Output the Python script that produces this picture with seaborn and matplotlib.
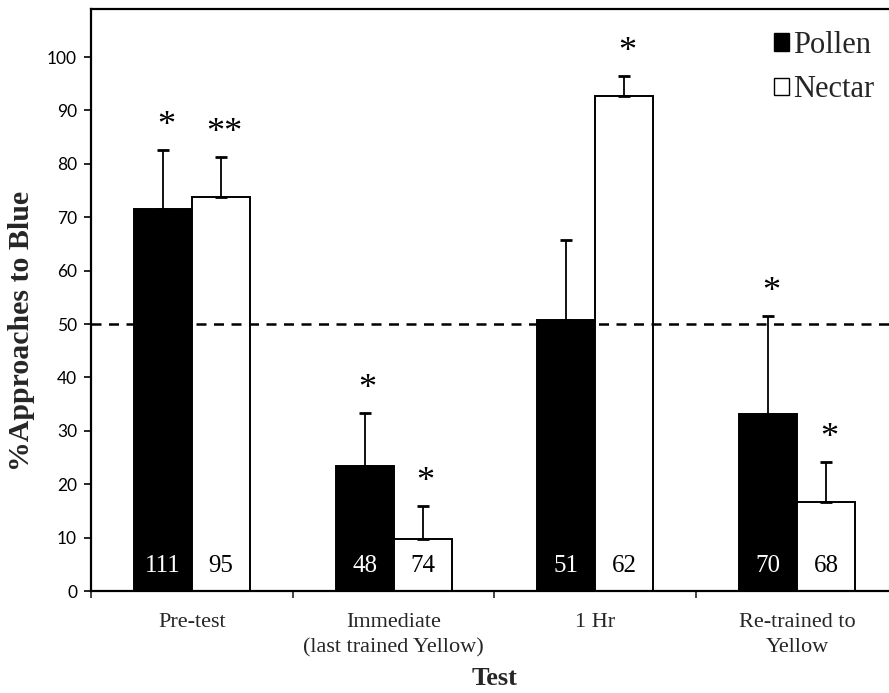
import numpy as np
import pandas as pd
import matplotlib
matplotlib.use("Agg")
import matplotlib.pyplot as plt
import seaborn as sns
from matplotlib.patches import Patch

categories = ["Pre-test", "Immediate\n(last trained Yellow)", "1 Hr", "Re-trained to\nYellow"]
groups = ["Pollen", "Nectar"]
pollen = [71.5, 23.4, 50.8, 33.1]
nectar = [73.8, 9.8, 92.7, 16.7]
pollen_err = [11.1, 10.0, 14.9, 18.4]
nectar_err = [7.5, 6.1, 3.8, 7.4]
pollen_n = ["111", "48", "51", "70"]
nectar_n = ["95", "74", "62", "68"]
pollen_sig = ["*", "*", "", "*"]
nectar_sig = ["**", "*", "*", "*"]
yticks = list(range(0, 101, 10))
chance = 50

sns.set_theme(style="ticks")
plt.rcParams["font.family"] = ["Liberation Serif", "DejaVu Serif"]

df = pd.DataFrame({
    "Test": categories * 2,
    "Group": ["Pollen"] * 4 + ["Nectar"] * 4,
    "Value": pollen + nectar,
})

fig = plt.figure(figsize=(8.89, 6.93), dpi=100)
ax = fig.add_axes([91 / 889, 102 / 693, 807 / 889, 582 / 693])

sns.barplot(data=df, x="Test", y="Value", hue="Group", order=categories,
            hue_order=groups, palette={"Pollen": "black", "Nectar": "white"},
            width=0.575, errorbar=None, edgecolor="black", linewidth=1.4,
            legend=False, ax=ax)

ax.set_ylim(0, 109)
ax.set_xlim(-0.5, 3.5)

bars = [p for p in ax.patches if p.get_height() > 0]
pol_bars = bars[:4]
nec_bars = bars[4:8]

sig_off = 4.4
for bset, vals, errs, ns, sigs, tcol in [
    (pol_bars, pollen, pollen_err, pollen_n, pollen_sig, "white"),
    (nec_bars, nectar, nectar_err, nectar_n, nectar_sig, "black"),
]:
    xs = [b.get_x() + b.get_width() / 2 for b in bset]
    ax.errorbar(xs, vals, yerr=[np.zeros(len(errs)), errs], fmt="none",
                ecolor="black", elinewidth=1.3, capsize=4.5, capthick=2.0,
                zorder=1)
    for x, v, e, n, s in zip(xs, vals, errs, ns, sigs):
        ax.text(x, 4.6, n, ha="center", va="center", color=tcol, fontsize=18)
        if s:
            ax.text(x + 0.015, v + e + sig_off, s, ha="center", va="center",
                    color="black", fontsize=26)

ax.axhline(chance, color="black", lw=1.8, ls=(0, (4, 3)), zorder=3)

for sp in ["left", "top", "bottom"]:
    ax.spines[sp].set_visible(True)
    ax.spines[sp].set_color("black")
    ax.spines[sp].set_linewidth(1.6)
ax.spines["right"].set_visible(False)

ax.set_yticks(yticks)
ax.set_yticklabels([str(t) for t in yticks], fontfamily="Lato", fontsize=12.5)
ax.tick_params(axis="y", direction="out", length=5, width=1.2, pad=5, colors="black")

ax.set_xticks([-0.5, 0.5, 1.5, 2.5, 3.5])
ax.set_xticklabels([])
ax.tick_params(axis="x", which="major", direction="out", length=5, width=1.2)
ax.set_xticks([0, 1, 2, 3], minor=True)
ax.set_xticklabels(categories, minor=True, fontsize=16, linespacing=1.4)
ax.tick_params(axis="x", which="minor", length=0, pad=16)

ax.set_xlabel("Test", fontsize=19, fontweight="bold")
ax.set_ylabel("%Approaches to Blue", fontsize=21.5, fontweight="bold")
ax.xaxis.set_label_coords(0.5, -0.131)
ax.yaxis.set_label_coords(-0.07, 0.447)

handles = [Patch(facecolor="black", edgecolor="black", label="Pollen"),
           Patch(facecolor="white", edgecolor="black", label="Nectar")]
fig.legend(handles=handles, loc="upper left", bbox_to_anchor=(774 / 889, 1 - 31 / 693),
           frameon=False, fontsize=22, handlelength=0.5, handleheight=0.5,
           handletextpad=0.12, labelspacing=0.5, borderaxespad=0, borderpad=0)

fig.savefig("out.png", dpi=100)
